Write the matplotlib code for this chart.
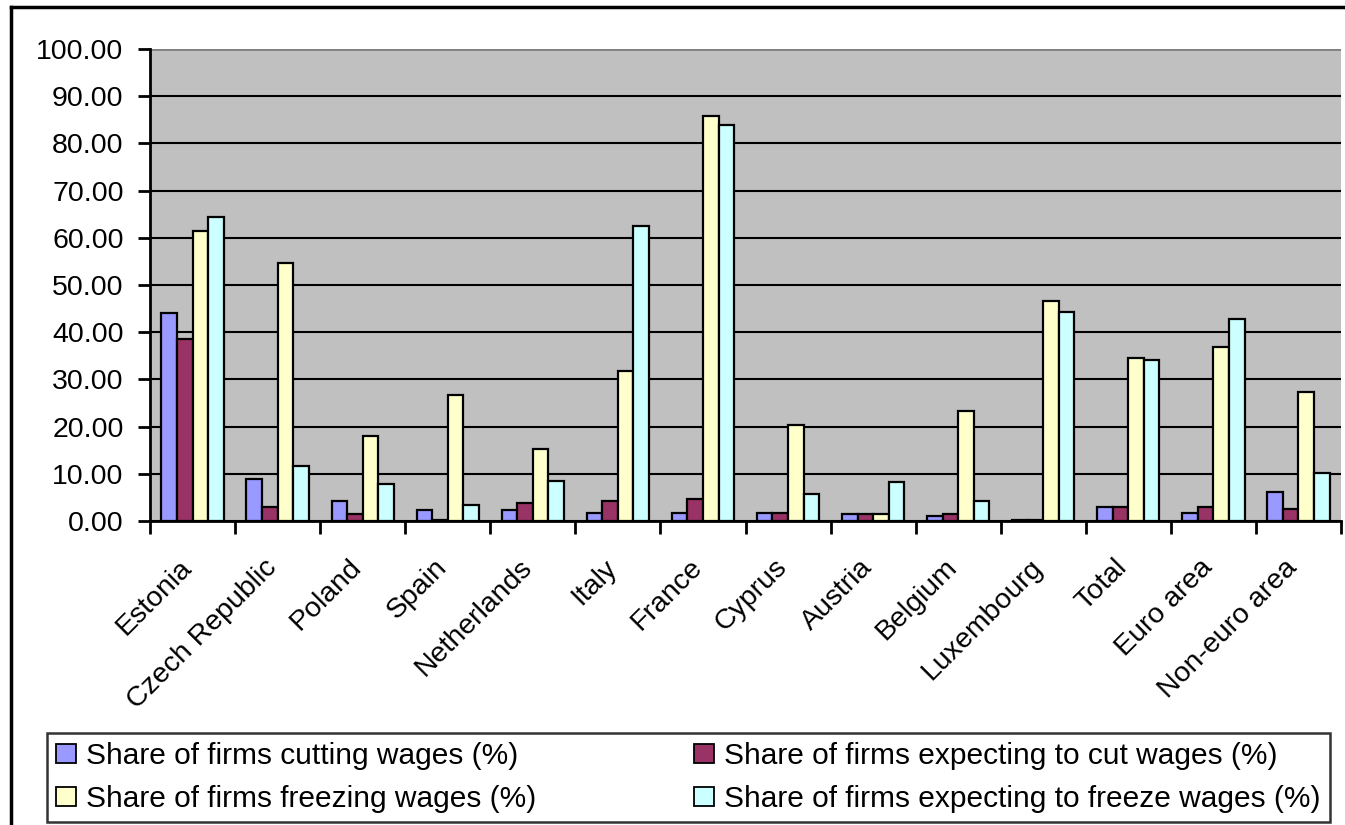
import numpy as np
import matplotlib.pyplot as plt
import matplotlib.transforms as mtransforms
from matplotlib.lines import Line2D
from matplotlib.patches import Patch

plt.rcParams['font.family'] = ['Liberation Sans', 'DejaVu Sans']

countries = ['Estonia', 'Czech Republic', 'Poland', 'Spain', 'Netherlands', 'Italy',
             'France', 'Cyprus', 'Austria', 'Belgium', 'Luxembourg', 'Total',
             'Euro area', 'Non-euro area']
cutting = [44.1, 8.9, 4.2, 2.3, 2.3, 1.8, 1.8, 1.8, 1.4, 1.0, 0.2, 3.0, 1.8, 6.2]
expect_cut = [38.6, 3.0, 1.4, 0.3, 3.8, 4.3, 4.6, 1.8, 1.4, 1.4, 0.2, 3.0, 3.0, 2.6]
freezing = [61.5, 54.7, 18.0, 26.7, 15.3, 31.8, 85.8, 20.4, 1.4, 23.4, 46.7, 34.5, 36.9, 27.4]
expect_freeze = [64.5, 11.7, 7.8, 3.4, 8.5, 62.5, 83.9, 5.8, 8.2, 4.2, 44.3, 34.1, 42.8, 10.1]

series = [
    ('Share of firms cutting wages (%)', cutting, '#9999FF'),
    ('Share of firms expecting to cut wages (%)', expect_cut, '#993366'),
    ('Share of firms freezing wages (%)', freezing, '#FFFFCC'),
    ('Share of firms expecting to freeze wages (%)', expect_freeze, '#CCFFFF'),
]

fig = plt.figure(figsize=(13.45, 8.25), dpi=100)
ax = fig.add_axes([150 / 1345, 1 - 521 / 825, 1191 / 1345, 472 / 825])
ax.set_facecolor('#C0C0C0')

x = np.arange(len(countries))
w = 0.183
for i, (name, vals, col) in enumerate(series):
    ax.bar(x + (i - 1.5) * w, vals, width=w, color=col, edgecolor='black',
           linewidth=1.6, zorder=3)

ax.set_xlim(-0.5, len(countries) - 0.5)
ax.set_ylim(0, 100)
ax.set_yticks(np.arange(0, 101, 10))
ax.set_yticklabels(['%.2f' % v for v in np.arange(0, 101, 10)], fontsize=20.5)
ax.yaxis.grid(True, color='black', linewidth=1.5, zorder=1)
ax.set_axisbelow(True)

# category ticks sit on the group boundaries, labels at group centres
ax.set_xticks(np.arange(-0.5, len(countries), 1.0))
ax.set_xticklabels([])
ax.set_xticks(x, minor=True)
ax.set_xticklabels(countries, minor=True, rotation=45, ha='right',
                   rotation_mode='anchor', fontsize=20.5)
ax.tick_params(axis='x', which='minor', length=0, pad=24)
ax.tick_params(axis='x', which='major', length=9, width=2, direction='out')
ax.tick_params(axis='y', length=9, width=2, direction='out', pad=10)

# nudge the slanted names a little to the left
shift = mtransforms.ScaledTranslation(-0.14, 0, fig.dpi_scale_trans)
for lab in ax.get_xticklabels(minor=True):
    lab.set_transform(lab.get_transform() + shift)

for s in ['top', 'right']:
    ax.spines[s].set_visible(False)
ax.spines['left'].set_linewidth(2)
ax.spines['bottom'].set_linewidth(2)
ax.axhline(100, color='#808080', linewidth=2, zorder=2)

# outer chart frame
fig.add_artist(Line2D([11 / 1345, 1.0], [1 - 7 / 825, 1 - 7 / 825],
                      transform=fig.transFigure, color='black', linewidth=2.5))
fig.add_artist(Line2D([11 / 1345, 11 / 1345], [0, 1 - 7 / 825],
                      transform=fig.transFigure, color='black', linewidth=2.5))

order = [0, 2, 1, 3]
handles = [Patch(facecolor=series[k][2], edgecolor='black', linewidth=1.3) for k in order]
labels = [series[k][0] for k in order]
leg = fig.legend(handles, labels, ncol=2, loc='upper left',
                 bbox_to_anchor=(47 / 1345, 1 - 733 / 825),
                 fontsize=21.5, frameon=True, fancybox=False,
                 edgecolor='black', handlelength=0.67, handleheight=0.6,
                 handletextpad=0.33, borderpad=0.3, labelspacing=0.5,
                 columnspacing=5.3, borderaxespad=0)
leg.get_frame().set_linewidth(1.8)

fig.savefig('out.png', dpi=100)
